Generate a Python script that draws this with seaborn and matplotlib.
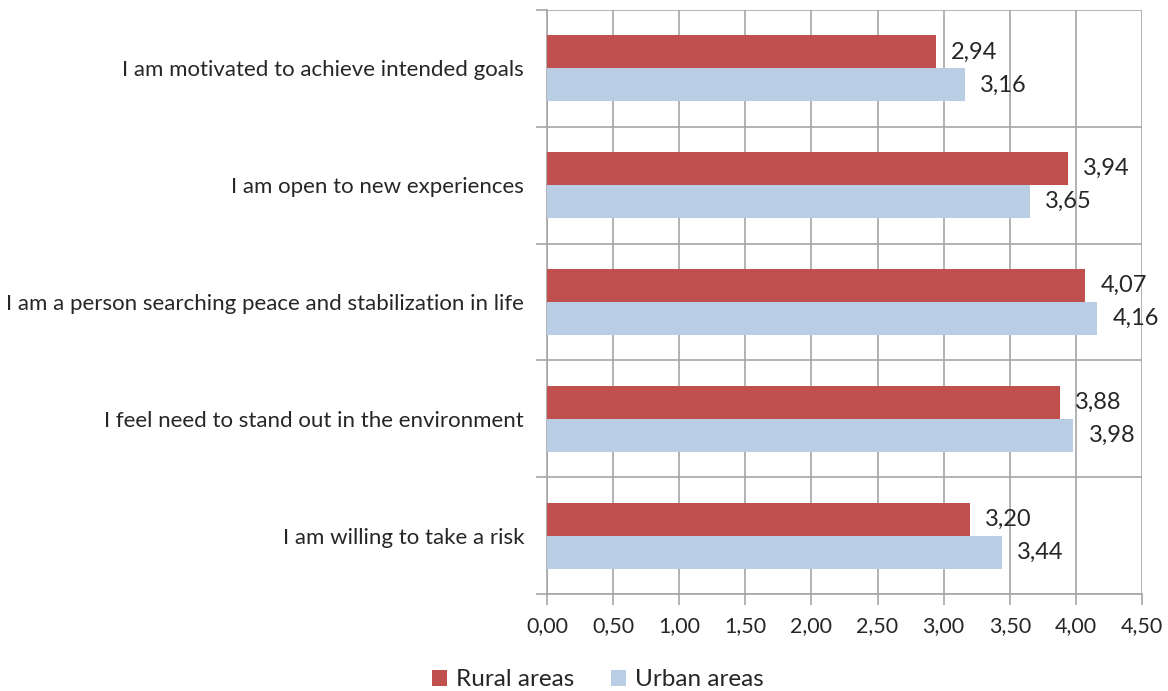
import matplotlib
matplotlib.use("Agg")
import matplotlib.pyplot as plt
from matplotlib.patches import Patch
from matplotlib.ticker import FixedLocator, FuncFormatter
import seaborn as sns
import pandas as pd

statements = [
    "I am motivated to achieve intended goals",
    "I am open to new experiences",
    "I am a person searching peace and stabilization in life",
    "I feel need to stand out in the environment",
    "I am willing to take a risk",
]
rural = [2.94, 3.94, 4.07, 3.88, 3.20]
urban = [3.16, 3.65, 4.16, 3.98, 3.44]
groups = ["Rural areas", "Urban areas"]
colors = ["#C0504D", "#B9CDE5"]

df = pd.DataFrame({
    "statement": statements * 2,
    "value": rural + urban,
    "group": [groups[0]] * len(statements) + [groups[1]] * len(statements),
})

sns.set_theme(style="white")
plt.rcParams["font.family"] = ["Lato", "DejaVu Sans"]
text_color = "#262626"
grid_color = "#A6A6A6"

fig = plt.figure(figsize=(11.68, 6.91), dpi=100)
ax = fig.add_axes([547 / 1168, 1 - 594 / 691, (1142 - 547) / 1168, (594 - 10) / 691])

sns.barplot(data=df, y="statement", x="value", hue="group", order=statements,
            hue_order=groups, palette=colors, orient="h", width=0.565,
            saturation=1, edgecolor="none", legend=False, ax=ax, zorder=3)

ax.set_xlim(0, 4.5)
ax.set_ylim(len(statements) - 0.5, -0.5)
ax.xaxis.set_major_locator(FixedLocator([i * 0.5 for i in range(10)]))
ax.xaxis.set_major_formatter(FuncFormatter(lambda v, p: f"{v:.2f}".replace(".", ",")))
ax.yaxis.set_minor_locator(FixedLocator([i - 0.5 for i in range(len(statements) + 1)]))
ax.grid(True, axis="x", which="major", color=grid_color, lw=1.2, zorder=0)
ax.grid(True, axis="y", which="minor", color=grid_color, lw=1.2, zorder=0)
ax.grid(False, axis="y", which="major")
ax.set_axisbelow(True)

for s in ["top", "right"]:
    ax.spines[s].set_visible(False)
for s in ["left", "bottom"]:
    ax.spines[s].set_color(grid_color)
    ax.spines[s].set_linewidth(1.2)

ax.tick_params(axis="x", which="major", length=8, width=1.2, color=grid_color,
               labelsize=15.5, labelcolor=text_color, pad=8, bottom=True)
ax.tick_params(axis="y", which="major", length=0, labelsize=16,
               labelcolor=text_color, pad=16.5)
ax.tick_params(axis="y", which="minor", length=8, width=1.2, color=grid_color, left=True)
ax.set_xlabel("")
ax.set_ylabel("")

# value labels at bar ends
for container in ax.containers:
    ax.bar_label(container, labels=[f"{w:.2f}".replace(".", ",") for w in container.datavalues],
                 padding=11, fontsize=17, color=text_color)

handles = [Patch(facecolor=c, edgecolor="none", label=g) for g, c in zip(groups, colors)]
fig.legend(handles=handles, loc="center", bbox_to_anchor=(598 / 1168, 1 - 680 / 691),
           ncol=2, frameon=False, fontsize=17.5, handlelength=0.6, handleheight=0.6,
           handletextpad=0.4, columnspacing=1.5, labelcolor=text_color)

fig.savefig("out.png", dpi=100)
